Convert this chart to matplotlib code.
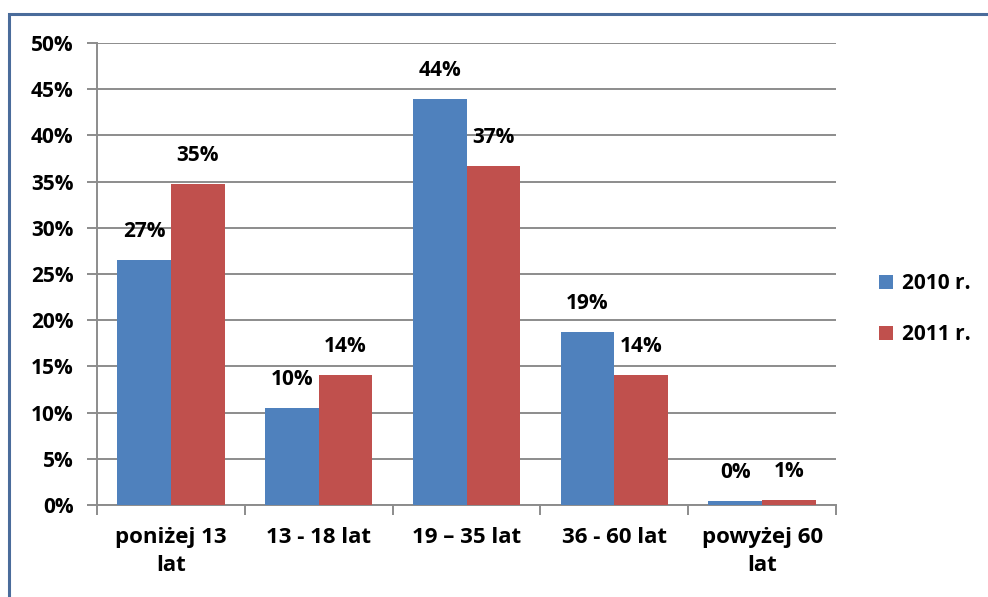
import matplotlib
matplotlib.use("Agg")
import matplotlib.pyplot as plt
from matplotlib.patches import Rectangle
import numpy as np

categories = ["poniżej 13\nlat", "13 - 18 lat", "19 – 35 lat", "36 - 60 lat", "powyżej 60\nlat"]
series_names = ["2010 r.", "2011 r."]
values_2010 = [26.5, 10.5, 43.9, 18.7, 0.4]
values_2011 = [34.7, 14.1, 36.7, 14.1, 0.5]
labels_2010 = ["27%", "10%", "44%", "19%", "0%"]
labels_2011 = ["35%", "14%", "37%", "14%", "1%"]
yticks = [0, 5, 10, 15, 20, 25, 30, 35, 40, 45, 50]

plt.rcParams['font.family'] = ['Open Sans', 'DejaVu Sans']
plt.rcParams['font.weight'] = 'bold'
FS = 15
FSX = 16

fig = plt.figure(figsize=(9.88, 5.97), dpi=100)
ax = fig.add_axes([97/988, 1-505/597, (836-97)/988, (505-43)/597])

colors = ["#4F81BD", "#C0504D"]
x = np.arange(len(categories))
w = 1/2.75
b1 = ax.bar(x - w/2, values_2010, w, color=colors[0], label=series_names[0], zorder=3)
b2 = ax.bar(x + w/2, values_2011, w, color=colors[1], label=series_names[1], zorder=3)

for bars, labs in ((b1, labels_2010), (b2, labels_2011)):
    for r, lab in zip(bars, labs):
        ax.annotate(lab, (r.get_x() + r.get_width()/2, r.get_height()),
                    xytext=(0, 13), textcoords="offset points",
                    ha="center", va="bottom", fontsize=FS, fontweight="bold")

ax.set_xlim(-0.5, len(categories) - 0.5)
ax.set_ylim(0, 50)
ax.set_yticks(yticks)
ax.set_yticklabels([f"{t}%" for t in yticks], fontsize=FS, fontweight="bold")
ax.yaxis.grid(True, color="#8C8C8C", linewidth=1.4, zorder=0)
ax.set_axisbelow(True)

ax.set_xticks(np.arange(-0.5, len(categories), 1.0))
ax.set_xticklabels([])
ax.set_xticks(x, minor=True)
ax.set_xticklabels(categories, minor=True, fontsize=FSX, fontweight="bold", linespacing=1.45)
ax.tick_params(axis="x", which="major", length=7, color="#8C8C8C", width=1.4, direction="out")
ax.tick_params(axis="x", which="minor", length=0, pad=16)
ax.tick_params(axis="y", length=7, color="#8C8C8C", width=1.4, pad=10)

for s in ["top", "right"]:
    ax.spines[s].set_visible(False)
for s in ["left", "bottom"]:
    ax.spines[s].set_color("#8C8C8C")
    ax.spines[s].set_linewidth(1.4)

leg = fig.legend(handles=[b1, b2], labels=series_names, loc="center left",
                 bbox_to_anchor=(871/988, 1-309/597), frameon=False,
                 borderaxespad=0, fontsize=FS, handlelength=0.65, handleheight=0.65,
                 labelspacing=1.45, handletextpad=0.45)
for t in leg.get_texts():
    t.set_fontweight("bold")

fig.patches.append(Rectangle((9/988, -0.1), 1.2, 1 - 14/597 + 0.1,
                             transform=fig.transFigure, fill=False,
                             edgecolor="#4A6C9B", linewidth=2.2))

fig.savefig("out.png", dpi=100)
